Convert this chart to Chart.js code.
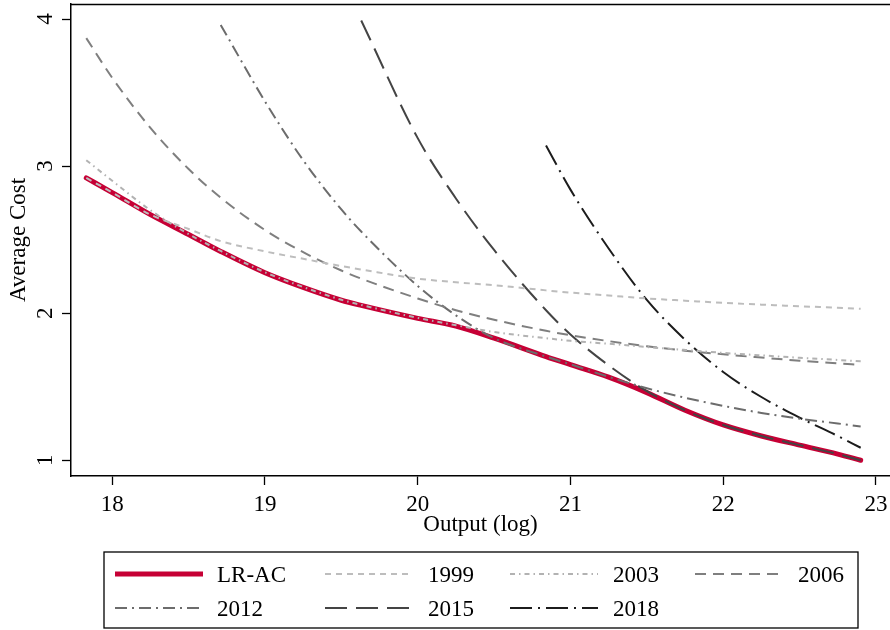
<!DOCTYPE html>
<html>
<head>
<meta charset="utf-8">
<title>Average cost by output</title>
<script src="https://cdn.jsdelivr.net/npm/chart.js@4.4.1/dist/chart.umd.min.js"></script>
<style>
  html, body { margin: 0; padding: 0; background: #fff; }
  canvas { display: block; }
</style>
</head>
<body>
<canvas id="chart" width="890" height="630"></canvas>
<script>
// output (log) grid the curves are read at
const outputLog = [17.83, 18.0, 18.25, 18.5, 18.71, 19.0, 19.25, 19.5, 19.63, 20.0, 20.25,
                   20.5, 20.84, 21.0, 21.25, 21.5, 21.75, 22.0, 22.25, 22.5, 22.75, 22.9];

// average cost per curve (null = curve not drawn there)
const lrAc   = [2.92, 2.82, 2.67, 2.535, 2.42, 2.275, 2.175, 2.088, 2.053, 1.965, 1.912,
                1.83, 1.705, 1.65, 1.565, 1.46, 1.34, 1.24, 1.165, 1.103, 1.042, 1.0];
const ac1999 = [2.92, 2.82, 2.67, 2.572, 2.49, 2.42, 2.37, 2.32, 2.297, 2.235, 2.21,
                2.19, 2.155, 2.14, 2.12, 2.10, 2.085, 2.07, 2.058, 2.047, 2.037, 2.03];
const ac2003 = [3.04, 2.90, 2.70, 2.538, 2.423, 2.278, 2.178, 2.091, 2.056, 1.968, 1.918,
                1.872, 1.83, 1.812, 1.792, 1.77, 1.75, 1.73, 1.713, 1.697, 1.682, 1.673];
const ac2006 = [3.87, 3.60, 3.26, 2.98, 2.785, 2.565, 2.415, 2.29, 2.235, 2.10, 2.02,
                1.955, 1.88, 1.85, 1.81, 1.775, 1.745, 1.72, 1.698, 1.677, 1.659, 1.648];
const ac2012 = [null, null, null, null, 3.96, 3.44, 3.04, 2.705, 2.555, 2.185, 1.985,
                1.83, 1.705, 1.652, 1.567, 1.49, 1.425, 1.37, 1.322, 1.283, 1.25, 1.23];
const ac2015 = [null, null, null, null, null, null, null, null, 3.99, 3.19, 2.78,
                2.43, 2.02, 1.855, 1.645, 1.47, 1.34, 1.24, 1.165, 1.103, 1.042, 1.0];
const ac2018 = [null, null, null, null, null, null, null, null, null, null, null,
                null, 3.14, 2.84, 2.44, 2.09, 1.82, 1.60, 1.43, 1.29, 1.165, 1.085];

const seriesNames = ['LR-AC', '1999', '2003', '2006', '2012', '2015', '2018'];
const seriesValues = [lrAc, ac1999, ac2003, ac2006, ac2012, ac2015, ac2018];

const xTicks = [18, 19, 20, 21, 22, 23];
const yTicks = [1, 2, 3, 4];

// line looks
const lineColors = ['#c60035', '#bdbdbd', '#b2b2b2', '#7f7f7f', '#6c6c6c', '#444444', '#1c1c1c'];
const lineWidths = [5, 2, 2, 2, 2, 2, 2];
const lineDashes = [[], [6, 5], [5, 4, 1.5, 4], [11, 7], [12, 5, 2, 5], [22, 9], [22, 6, 2, 6]];

Chart.defaults.font.family = '"Liberation Serif", "Times New Roman", serif';
Chart.defaults.color = '#000';

const datasets = seriesNames.map((name, i) => ({
  label: name,
  data: outputLog.map((x, j) => ({ x: x, y: seriesValues[i][j] })).filter(p => p.y !== null),
  borderColor: lineColors[i],
  borderWidth: lineWidths[i],
  borderDash: lineDashes[i],
  borderCapStyle: i === 0 ? 'round' : 'butt',
  borderJoinStyle: 'round',
  pointRadius: 0,
  fill: false,
  cubicInterpolationMode: 'monotone',
  order: i === 0 ? 1 : 0
}));

// boxed legend in four columns under the plot, plus the top frame line
const boxLegend = {
  id: 'boxLegend',
  afterDraw(chart) {
    const ctx = chart.ctx;
    const area = chart.chartArea;
    ctx.save();
    ctx.strokeStyle = '#000';
    ctx.lineWidth = 1.5;
    ctx.beginPath();
    ctx.moveTo(area.left, area.top + 0.5);
    ctx.lineTo(area.right, area.top + 0.5);
    ctx.stroke();

    ctx.lineWidth = 1.3;
    ctx.strokeRect(104, 552, 754, 76);

    const lineX = [115, 325, 510, 695];
    const textX = [217, 428, 613, 798];
    const rowY = [574, 608];
    ctx.font = '23px "Liberation Serif", "Times New Roman", serif';
    ctx.textBaseline = 'middle';
    chart.data.datasets.forEach((ds, i) => {
      const col = i % 4;
      const y = rowY[Math.floor(i / 4)];
      ctx.beginPath();
      ctx.setLineDash(ds.borderDash);
      ctx.strokeStyle = ds.borderColor;
      ctx.lineWidth = ds.borderWidth;
      ctx.lineCap = 'butt';
      ctx.moveTo(lineX[col], y);
      ctx.lineTo(lineX[col] + 88, y);
      ctx.stroke();
      ctx.setLineDash([]);
      ctx.fillStyle = '#000';
      ctx.fillText(ds.label, textX[col], y + 2);
    });
    ctx.restore();
  }
};

new Chart(document.getElementById('chart'), {
  type: 'line',
  data: { datasets: datasets },
  plugins: [boxLegend],
  options: {
    responsive: false,
    animation: false,
    layout: { padding: { left: 0, right: 0, top: 4, bottom: 0 } },
    plugins: {
      legend: { display: false },
      tooltip: { enabled: false }
    },
    scales: {
      x: {
        type: 'linear',
        min: 17.73,
        max: 23.092,
        afterBuildTicks: s => { s.ticks = xTicks.map(v => ({ value: v })); },
        afterFit: s => { s.height = 154; s.paddingLeft = 0; s.paddingRight = 0; },
        grid: { drawOnChartArea: false, tickLength: 9, tickColor: '#000', tickWidth: 1.3 },
        border: { color: '#000', width: 1.5 },
        ticks: { color: '#000', font: { size: 23 }, padding: 6, maxRotation: 0, autoSkip: false },
        title: { display: true, text: 'Output (log)', color: '#000', font: { size: 23 },
                 padding: { top: 0, bottom: 91 } }
      },
      y: {
        min: 0.893,
        max: 4.102,
        afterBuildTicks: s => { s.ticks = yTicks.map(v => ({ value: v })); },
        afterFit: s => { s.width = 71; s.paddingTop = 0; s.paddingBottom = 0; },
        grid: { drawOnChartArea: false, tickLength: 9, tickColor: '#000', tickWidth: 1.3 },
        border: { color: '#000', width: 1.5 },
        ticks: { color: '#000', font: { size: 23 }, padding: 10.5, minRotation: 90, maxRotation: 90,
                 crossAlign: 'center', callback: v => String(v) },
        title: { display: true, text: 'Average Cost', color: '#000', font: { size: 23 },
                 padding: { top: 5.6, bottom: 0 } }
      }
    }
  }
});
</script>
</body>
</html>
